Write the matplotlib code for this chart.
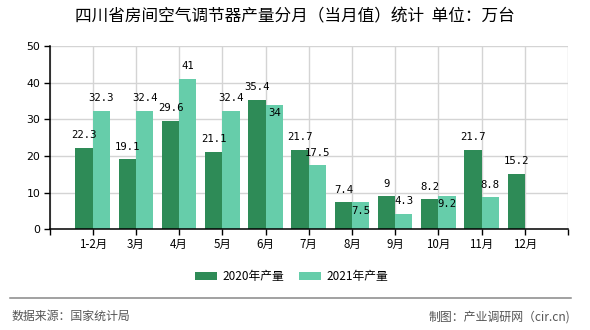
import numpy as np
import matplotlib
matplotlib.use('Agg')
import matplotlib.pyplot as plt

plt.rcParams['font.family'] = ['Noto Sans CJK SC', 'DejaVu Sans']

###########################

months = ['1-2月', '3月', '4月', '5月', '6月', '7月', '8月', '9月', '10月', '11月', '12月']
prod_2020 = [22.3, 19.1, 29.6, 21.1, 35.4, 21.7, 7.4, 9, 8.2, 21.7, 15.2]
prod_2021 = [32.3, 32.4, 41, 32.4, 34, 17.5, 7.5, 4.3, 9.2, 8.8, None]
yticks = [0, 10, 20, 30, 40, 50]

title = '四川省房间空气调节器产量分月（当月值）统计  单位：万台'
source = '数据来源：国家统计局'
credit = '制图：产业调研网（cir.cn)'

c2020 = '#2e8b57'
c2021 = '#66cdaa'

###########################

fig = plt.figure(figsize=(5.9, 3.3), dpi=100)
ax = fig.add_axes([49.5/590, 1-229.3/330, (568-49.5)/590, (229.3-46)/330])

x = np.arange(len(months))
w = 0.4
v20 = np.array(prod_2020, dtype=float)
v21 = np.array([np.nan if v is None else v for v in prod_2021])

b1 = ax.bar(x - w/2, v20, w, color=c2020, label='2020年产量', zorder=3)
b2 = ax.bar(x + w/2, np.nan_to_num(v21), w, color=c2021, label='2021年产量', zorder=3)

def fmt(v):
    return ('%g' % v)

lab_kw = dict(ha='center', va='center', fontsize=7.7,
              family='DejaVu Sans Mono', color='black', zorder=5)
for i, v in enumerate(v20):
    ax.annotate(fmt(v), (x[i] - w/2, v), xytext=(0, 9), textcoords='offset points', **lab_kw)
for i, v in enumerate(v21):
    if np.isnan(v):
        continue
    # labels that collide with the 2020 label get pushed into the bar
    dy = -6.3 if abs(v - v20[i]) < 3.5 else 9
    ax.annotate(fmt(v), (x[i] + w/2, v), xytext=(0, dy), textcoords='offset points', **lab_kw)

ax.set_xlim(-1, len(months))
ax.set_ylim(0, 50)
ax.set_yticks(yticks)
ax.set_xticks(np.arange(-1, len(months) + 1))
ax.set_xticklabels([''] + months + [''])
ax.tick_params(axis='x', length=4.5, width=1, labelsize=8.3, pad=2)
ax.tick_params(axis='y', length=4.5, width=1, labelsize=7.8, pad=2)
for t in ax.get_yticklabels():
    t.set_family('DejaVu Sans')

ax.grid(True, color='#d4d4d4', linewidth=1, zorder=0)
ax.set_axisbelow(True)
for s in ['top', 'right']:
    ax.spines[s].set_visible(False)
for s in ['left', 'bottom']:
    ax.spines[s].set_linewidth(1.1)
    ax.spines[s].set_color('black')
    ax.spines[s].set_zorder(4)

fig.text(0.5, 1-16.5/330, title, ha='center', va='center', fontsize=12)

fig.legend(handles=[b1, b2], loc='center', bbox_to_anchor=(291.5/590, 1-276.7/330),
           ncol=2, frameon=False, fontsize=8.5, handlelength=1.84, handleheight=0.74,
           handletextpad=0.45, columnspacing=1.3)

fig.add_artist(plt.Line2D([10/590, 571/590], [1-298.3/330, 1-298.3/330],
                          color='#888888', linewidth=1.1))
fig.text(12/590, 1-316.7/330, source, ha='left', va='center', fontsize=8.6, color='#555555')
fig.text(570/590, 1-316.7/330, credit, ha='right', va='center', fontsize=8.6, color='#555555')

fig.savefig('out.png', dpi=100)
